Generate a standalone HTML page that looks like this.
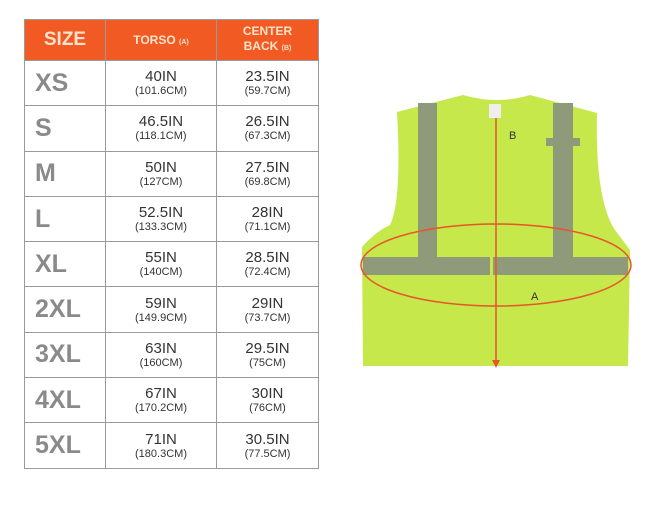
<!DOCTYPE html>
<html><head><style>
body{margin:0;width:670px;height:511px;background:#fff;position:relative;overflow:hidden;font-family:"Liberation Sans",sans-serif}
table{position:absolute;left:24px;top:19px;border-collapse:collapse;width:295px}
td{border:1px solid #9a9a9a;text-align:center;padding:0;color:#333}
th{background:#f15a22;color:#fde3cc;font-weight:bold;height:40px;border:1px solid #9a9a9a;padding:0}
td.s{color:#8a8a8a;font-weight:bold;font-size:25px;text-align:left;padding-left:10px}
tr.r td{height:44.3px}
.a{font-size:15px;line-height:16px}.b{font-size:11px;line-height:12px}
</style></head><body>
<table>
<tr><th style="width:80px;font-size:19px">SIZE</th><th style="width:110px;font-size:12px">TORSO <span style="font-size:7px">(A)</span></th><th style="font-size:12px;line-height:15px">CENTER<br>BACK <span style="font-size:7px">(B)</span></th></tr>
<tr class="r"><td class="s">XS</td><td><div class="a">40IN</div><div class="b">(101.6CM)</div></td><td><div class="a">23.5IN</div><div class="b">(59.7CM)</div></td></tr>
<tr class="r"><td class="s">S</td><td><div class="a">46.5IN</div><div class="b">(118.1CM)</div></td><td><div class="a">26.5IN</div><div class="b">(67.3CM)</div></td></tr>
<tr class="r"><td class="s">M</td><td><div class="a">50IN</div><div class="b">(127CM)</div></td><td><div class="a">27.5IN</div><div class="b">(69.8CM)</div></td></tr>
<tr class="r"><td class="s">L</td><td><div class="a">52.5IN</div><div class="b">(133.3CM)</div></td><td><div class="a">28IN</div><div class="b">(71.1CM)</div></td></tr>
<tr class="r"><td class="s">XL</td><td><div class="a">55IN</div><div class="b">(140CM)</div></td><td><div class="a">28.5IN</div><div class="b">(72.4CM)</div></td></tr>
<tr class="r"><td class="s">2XL</td><td><div class="a">59IN</div><div class="b">(149.9CM)</div></td><td><div class="a">29IN</div><div class="b">(73.7CM)</div></td></tr>
<tr class="r"><td class="s">3XL</td><td><div class="a">63IN</div><div class="b">(160CM)</div></td><td><div class="a">29.5IN</div><div class="b">(75CM)</div></td></tr>
<tr class="r"><td class="s">4XL</td><td><div class="a">67IN</div><div class="b">(170.2CM)</div></td><td><div class="a">30IN</div><div class="b">(76CM)</div></td></tr>
<tr class="r"><td class="s">5XL</td><td><div class="a">71IN</div><div class="b">(180.3CM)</div></td><td><div class="a">30.5IN</div><div class="b">(77.5CM)</div></td></tr>
</table>
<svg width="670" height="511" style="position:absolute;left:0;top:0">
<path d="M397,112 L463,95 Q497,105 530,95 L597,113 Q595,200 615,230 L630,250 L628,366 L363,366 L362,247 Q375,232 390,225 Q402,200 397,112 Z" fill="#c6e84a"/>
<rect x="418" y="103" width="19" height="160" fill="#8e9a7a"/>
<rect x="553" y="103" width="20" height="160" fill="#8e9a7a"/>
<rect x="546" y="138" width="34" height="8" fill="#8e9a7a"/>
<rect x="363" y="257" width="127" height="18" fill="#8e9a7a"/>
<rect x="493" y="257" width="135" height="18" fill="#8e9a7a"/>
<rect x="489" y="104" width="12" height="14" fill="#eee"/>
<ellipse cx="496" cy="265" rx="135" ry="41" fill="none" stroke="#e8552a" stroke-width="1.5"/>
<line x1="496" y1="118" x2="496" y2="366" stroke="#e8552a" stroke-width="1.5"/>
<path d="M492,360 L496,368 L500,360 Z" fill="#e8552a"/>
<text x="509" y="139" font-size="11" fill="#333">B</text>
<text x="531" y="300" font-size="11" fill="#333">A</text>
</svg>
</body></html>
